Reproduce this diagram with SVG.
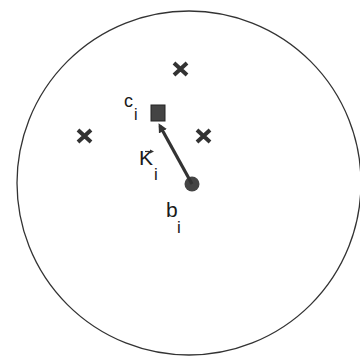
<svg xmlns="http://www.w3.org/2000/svg" width="360" height="357" viewBox="0 0 360 357">
<defs>
<style>
.t{font-family:"Liberation Sans",Arial,sans-serif;fill:#1a1a1a}
.x{stroke:#333;stroke-width:4;stroke-linecap:butt}
</style>
<marker id="ah" markerWidth="9" markerHeight="9" refX="6" refY="4.5" orient="auto" markerUnits="userSpaceOnUse">
<path d="M0,0 L9,4.5 L0,9 Z" fill="#333"/>
</marker>
</defs>
<rect width="360" height="357" fill="#fff"/>
<g id="boundary"><circle cx="189" cy="183" r="172" fill="none" stroke="#333" stroke-width="1.3"/></g>
<g id="x1" class="x"><path d="M174,63 L187,75 M187,63 L174,75"/></g>
<g id="x2" class="x"><path d="M78,130 L91,142 M91,130 L78,142"/></g>
<g id="x3" class="x"><path d="M197,130 L210,142 M210,130 L197,142"/></g>
<g id="c"><rect x="151" y="105" width="14" height="16" fill="#444" stroke="#222" stroke-width="1"/><text class="t" x="124" y="107" font-size="18">c</text><text class="t" x="134" y="120" font-size="16">i</text></g>
<g id="b"><circle cx="192" cy="184" r="7.5" fill="#444"/><text class="t" x="166" y="217" font-size="21">b</text><text class="t" x="177" y="233" font-size="17">i</text></g>
<g id="k"><text class="t" x="139" y="165" font-size="21">K</text><text class="t" x="154" y="180" font-size="17">i</text><path d="M145,151.5 L152,151.5" stroke="#333" stroke-width="1.2"/><path d="M154,151.5 L150,149.5 L150,153.5 Z" fill="#333"/></g>
<g id="connectors"><line x1="192" y1="184" x2="160" y2="126" stroke="#333" stroke-width="3.2" marker-end="url(#ah)"/></g>
</svg>
